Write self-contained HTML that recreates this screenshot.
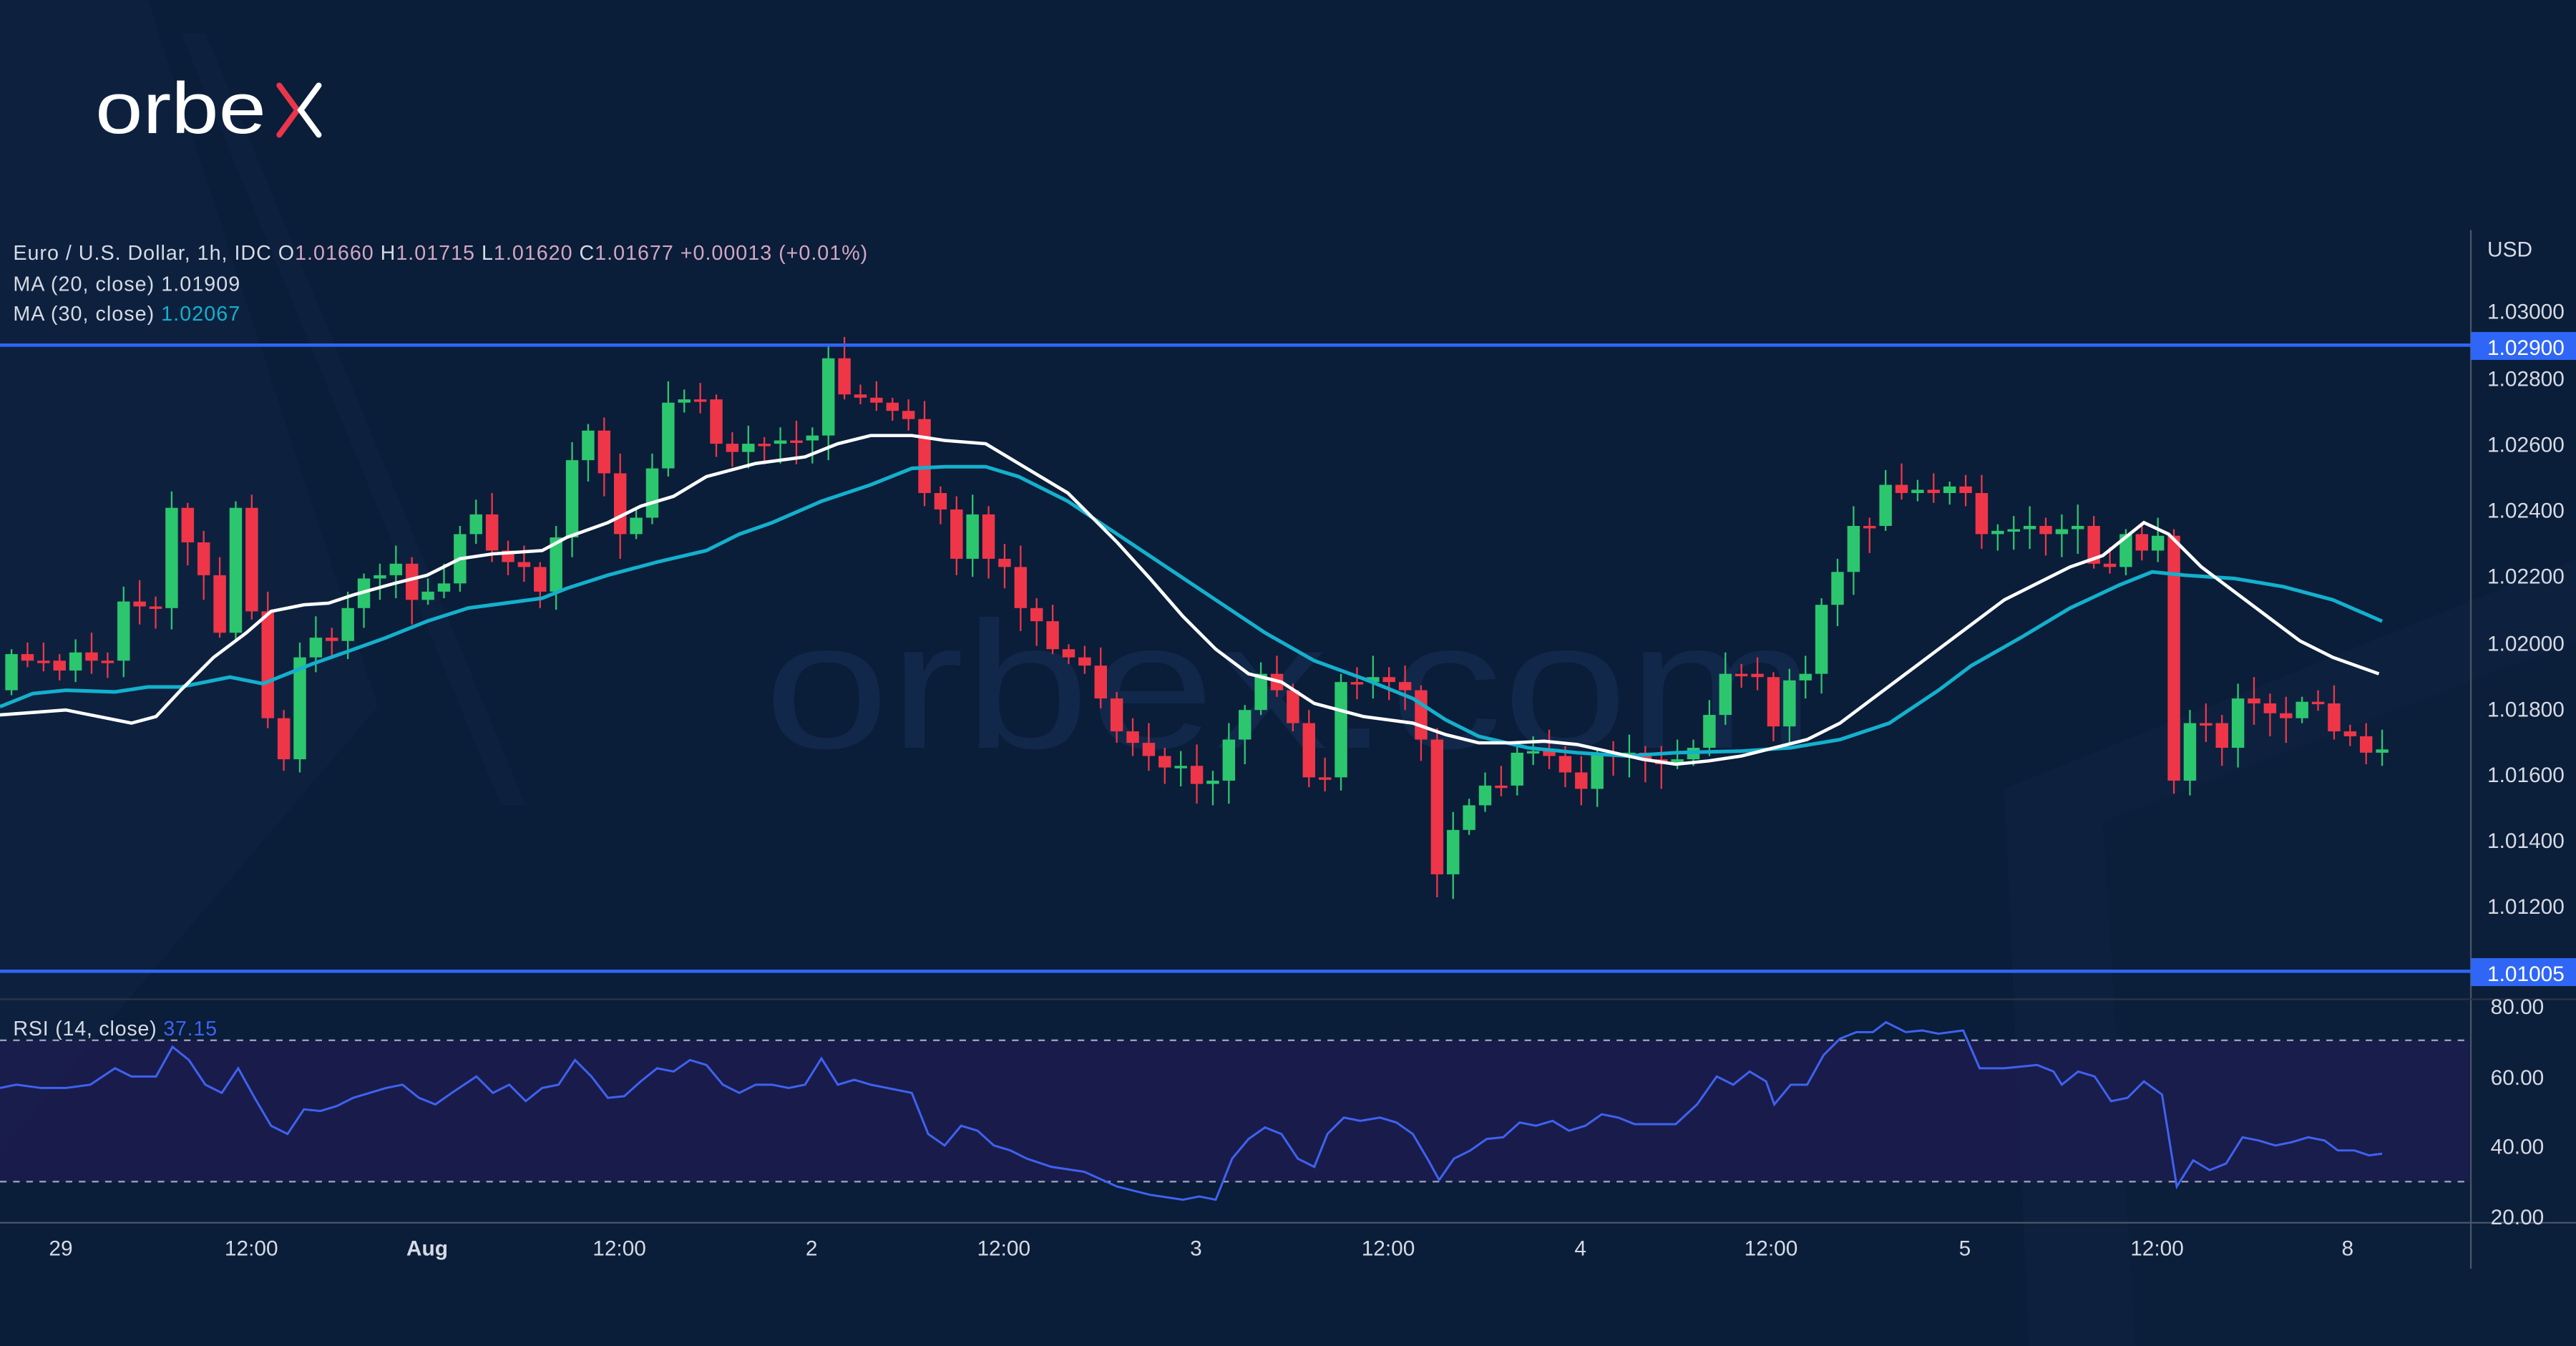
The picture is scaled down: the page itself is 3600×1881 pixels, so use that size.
<!DOCTYPE html>
<html><head><meta charset="utf-8"><style>
html,body{margin:0;padding:0;background:#0a1d39;}
svg{display:block}
text{font-family:"Liberation Sans",sans-serif}
</style></head><body>
<svg id="s" width="3600" height="1881" viewBox="0 0 1568 819" preserveAspectRatio="none" xmlns="http://www.w3.org/2000/svg">
<rect width="1568" height="819" fill="#0a1d39"/>
<polygon points="0,0 90,0 230,430 170,500 0,700" fill="#0e2342" opacity="0.7"/>
<polygon points="110,20 125,20 320,490 305,490" fill="#0f2544" opacity="0.6"/>
<polygon points="1220,480 1568,340 1568,819 1235,819" fill="#0e2341" opacity="0.8"/>
<polygon points="1280,500 1568,390 1568,819 1300,819" fill="#0b1e3a" opacity="0.9"/>
<text x="465" y="455" font-size="110" fill="#12284a" textLength="640" lengthAdjust="spacingAndGlyphs">orbex.com</text>
<!-- logo -->
<text x="58" y="81" font-size="44" fill="#ffffff" textLength="104" lengthAdjust="spacingAndGlyphs">orbe</text>
<path d="M170,52 L181,67 L170,82" stroke="#e8364a" stroke-width="3.5" fill="none" stroke-linecap="round"/>
<path d="M194,52 L183,67 L194,82" stroke="#ffffff" stroke-width="3.5" fill="none" stroke-linecap="round"/>
<!-- RSI band -->
<rect x="0" y="633" width="1503" height="86" fill="#1b1d4e" opacity="0.9"/>
<line x1="0" y1="633" x2="1503" y2="633" stroke="#9aa0b8" stroke-width="1" stroke-dasharray="4,4"/>
<line x1="0" y1="719" x2="1503" y2="719" stroke="#9aa0b8" stroke-width="1" stroke-dasharray="4,4"/>
<!-- separators -->
<line x1="1504" y1="140" x2="1504" y2="772" stroke="#4a5468" stroke-width="1"/>
<line x1="0" y1="608" x2="1568" y2="608" stroke="#2a3448" stroke-width="1"/>
<line x1="0" y1="744" x2="1568" y2="744" stroke="#4a5468" stroke-width="1"/>
<g id="candles"></g>
<polyline id="ma30" fill="none" stroke="#14b0cc" stroke-width="2.2"/>
<polyline id="ma20" fill="none" stroke="#ffffff" stroke-width="2"/>
<polyline id="rsi" fill="none" stroke="#3f62f0" stroke-width="1.3"/>
<!-- horizontal levels -->
<line x1="0" y1="210" x2="1504" y2="210" stroke="#2f66f5" stroke-width="2"/>
<line x1="0" y1="591" x2="1504" y2="591" stroke="#2f66f5" stroke-width="2"/>
<rect x="1504" y="202" width="64" height="17" fill="#2f66f5"/>
<rect x="1504" y="583" width="64" height="17" fill="#2f66f5"/>
<g font-size="13" fill="#d6dae3">
<text x="1514" y="156">USD</text>
<text x="1514" y="194">1.03000</text>
<text x="1514" y="216" fill="#fff">1.02900</text>
<text x="1514" y="235">1.02800</text>
<text x="1514" y="275">1.02600</text>
<text x="1514" y="315">1.02400</text>
<text x="1514" y="355">1.02200</text>
<text x="1514" y="396">1.02000</text>
<text x="1514" y="436">1.01800</text>
<text x="1514" y="476">1.01600</text>
<text x="1514" y="516">1.01400</text>
<text x="1514" y="556">1.01200</text>
<text x="1514" y="597" fill="#fff">1.01005</text>
<text x="1516" y="617">80.00</text>
<text x="1516" y="660">60.00</text>
<text x="1516" y="702">40.00</text>
<text x="1516" y="745">20.00</text>
<g text-anchor="middle">
<text x="37" y="764">29</text><text x="153" y="764">12:00</text><text x="260" y="764" font-weight="bold">Aug</text>
<text x="377" y="764">12:00</text><text x="494" y="764">2</text><text x="611" y="764">12:00</text>
<text x="728" y="764">3</text><text x="845" y="764">12:00</text><text x="962" y="764">4</text>
<text x="1078" y="764">12:00</text><text x="1196" y="764">5</text><text x="1313" y="764">12:00</text><text x="1429" y="764">8</text>
</g>
</g>
<g font-size="12.5" fill="#d6dae3">
<text x="8" y="158" textLength="520" lengthAdjust="spacing">Euro / U.S. Dollar, 1h, IDC  O<tspan fill="#d4a6c0">1.01660</tspan>  H<tspan fill="#d4a6c0">1.01715</tspan>  L<tspan fill="#d4a6c0">1.01620</tspan>  C<tspan fill="#d4a6c0">1.01677</tspan>  <tspan fill="#d4a6c0">+0.00013 (+0.01%)</tspan></text>
<text x="8" y="177" textLength="138" lengthAdjust="spacing">MA (20, close)  1.01909</text>
<text x="8" y="195" textLength="138" lengthAdjust="spacing">MA (30, close)  <tspan fill="#14b0cc">1.02067</tspan></text>
<text x="8" y="630" textLength="124" lengthAdjust="spacing">RSI (14, close)  <tspan fill="#3f62f0">37.15</tspan></text>
</g>
</svg>
<script>
(function(){
var C=[398,402,402,408,397,402,402,366,369,370,309,330,350,385,309,372,437,462,400,388,390,370,352,350,343,365,360,355,325,313,335,342,345,360,327,280,262,288,325,315,285,245,243,243,270,275,270,270,268,268,265,218,240,242,245,250,255,300,310,340,313,340,345,370,378,395,400,405,425,445,452,460,467,466,477,475,450,432,410,420,440,473,473,415,415,412,415,420,450,532,505,490,478,478,458,457,460,470,480,458,460,458,462,465,462,455,435,410,410,412,442,414,410,368,348,320,320,295,300,298,300,296,300,325,323,322,320,325,322,320,343,345,325,335,326,475,440,440,455,425,428,434,437,427,428,445,448,458,456];
var g='',o=420;
for(var i=0;i<C.length;i++){var x=7+9.75*i,c=C[i],up=c<o,bt=Math.min(o,c),bb=Math.max(o,c);
if(bb-bt<1.5){bb=bt+1.5;}
var r1=3+((i*37)%11),r2=3+((i*53)%13);
var col=up?'#2cc66e':'#ee3648';
g+='<line x1="'+x+'" y1="'+(bt-r1)+'" x2="'+x+'" y2="'+(bb+r2)+'" stroke="'+col+'" stroke-width="1"/>';
g+='<rect x="'+(x-3.8)+'" y="'+bt+'" width="7.6" height="'+(bb-bt)+'" fill="'+col+'"/>';
o=c;}
document.getElementById('candles').innerHTML=g;
function P(id,a){document.getElementById(id).setAttribute('points',a.map(function(p){return p[0]+','+p[1]}).join(' '));}
P('ma20',[[0,435],[40,432],[80,440],[95,436],[110,420],[130,400],[150,385],[165,372],[185,368],[200,367],[215,362],[240,355],[260,350],[280,340],[300,337],[330,335],[345,327],[370,318],[390,308],[410,302],[430,290],[460,282],[490,278],[510,270],[530,265],[555,265],[575,268],[600,270],[620,282],[650,300],[680,330],[700,352],[720,375],[740,395],[760,410],[780,415],[800,428],[830,436],[860,440],[880,447],[900,452],[920,452],[940,451],[960,453],[1000,462],[1020,465],[1040,463],[1060,460],[1080,455],[1100,450],[1120,440],[1140,425],[1160,410],[1180,395],[1200,380],[1220,365],[1240,355],[1260,345],[1280,338],[1305,318],[1320,325],[1340,345],[1360,360],[1380,375],[1400,390],[1420,400],[1448,410]]);
P('ma30',[[0,430],[20,422],[40,420],[70,421],[90,418],[110,418],[125,415],[140,412],[160,416],[175,410],[190,404],[210,397],[235,388],[260,378],[285,370],[300,368],[330,364],[345,358],[370,350],[400,342],[430,335],[450,325],[470,318],[500,305],[530,295],[555,285],[575,284],[600,284],[620,290],[650,305],[680,325],[710,345],[740,365],[770,385],[800,402],[830,413],[860,425],[880,438],[900,448],[930,455],[960,458],[990,460],[1020,458],[1060,457],[1090,455],[1120,450],[1150,440],[1180,420],[1200,405],[1230,388],[1260,370],[1290,356],[1310,348],[1330,350],[1360,352],[1390,357],[1420,365],[1450,378]]);
P('rsi',[[0,662],[10,660],[25,662],[40,662],[55,660],[70,650],[80,655],[95,655],[105,637],[115,645],[125,660],[135,665],[145,650],[155,668],[165,685],[175,690],[185,675],[195,676],[205,673],[215,668],[225,665],[235,662],[245,660],[255,668],[265,672],[275,665],[290,655],[300,665],[310,660],[320,670],[330,662],[340,660],[350,645],[360,655],[370,668],[380,667],[390,658],[400,650],[410,652],[420,645],[430,648],[440,660],[450,665],[460,660],[470,660],[480,662],[490,660],[500,644],[510,660],[520,657],[530,660],[545,663],[555,665],[565,690],[575,697],[585,685],[595,688],[605,697],[615,700],[625,705],[640,710],[660,713],[680,722],[700,727],[720,730],[730,728],[740,730],[750,705],[760,693],[770,686],[780,690],[790,705],[800,710],[808,690],[818,680],[828,682],[840,680],[850,683],[860,690],[870,707],[876,718],[885,705],[895,700],[905,693],[915,692],[925,683],[935,685],[945,682],[955,688],[965,685],[975,678],[985,680],[995,684],[1005,684],[1020,684],[1033,672],[1045,655],[1055,660],[1065,652],[1075,658],[1080,672],[1090,660],[1100,660],[1110,642],[1120,632],[1130,628],[1140,628],[1148,622],[1160,628],[1170,627],[1180,629],[1195,627],[1205,650],[1220,650],[1240,648],[1250,652],[1255,660],[1265,652],[1275,655],[1285,670],[1295,668],[1305,658],[1316,666],[1325,722],[1335,706],[1345,712],[1355,708],[1365,692],[1375,694],[1385,697],[1395,695],[1405,692],[1415,694],[1423,700],[1433,700],[1442,703],[1450,702]]);
})();
</script>
</body></html>
